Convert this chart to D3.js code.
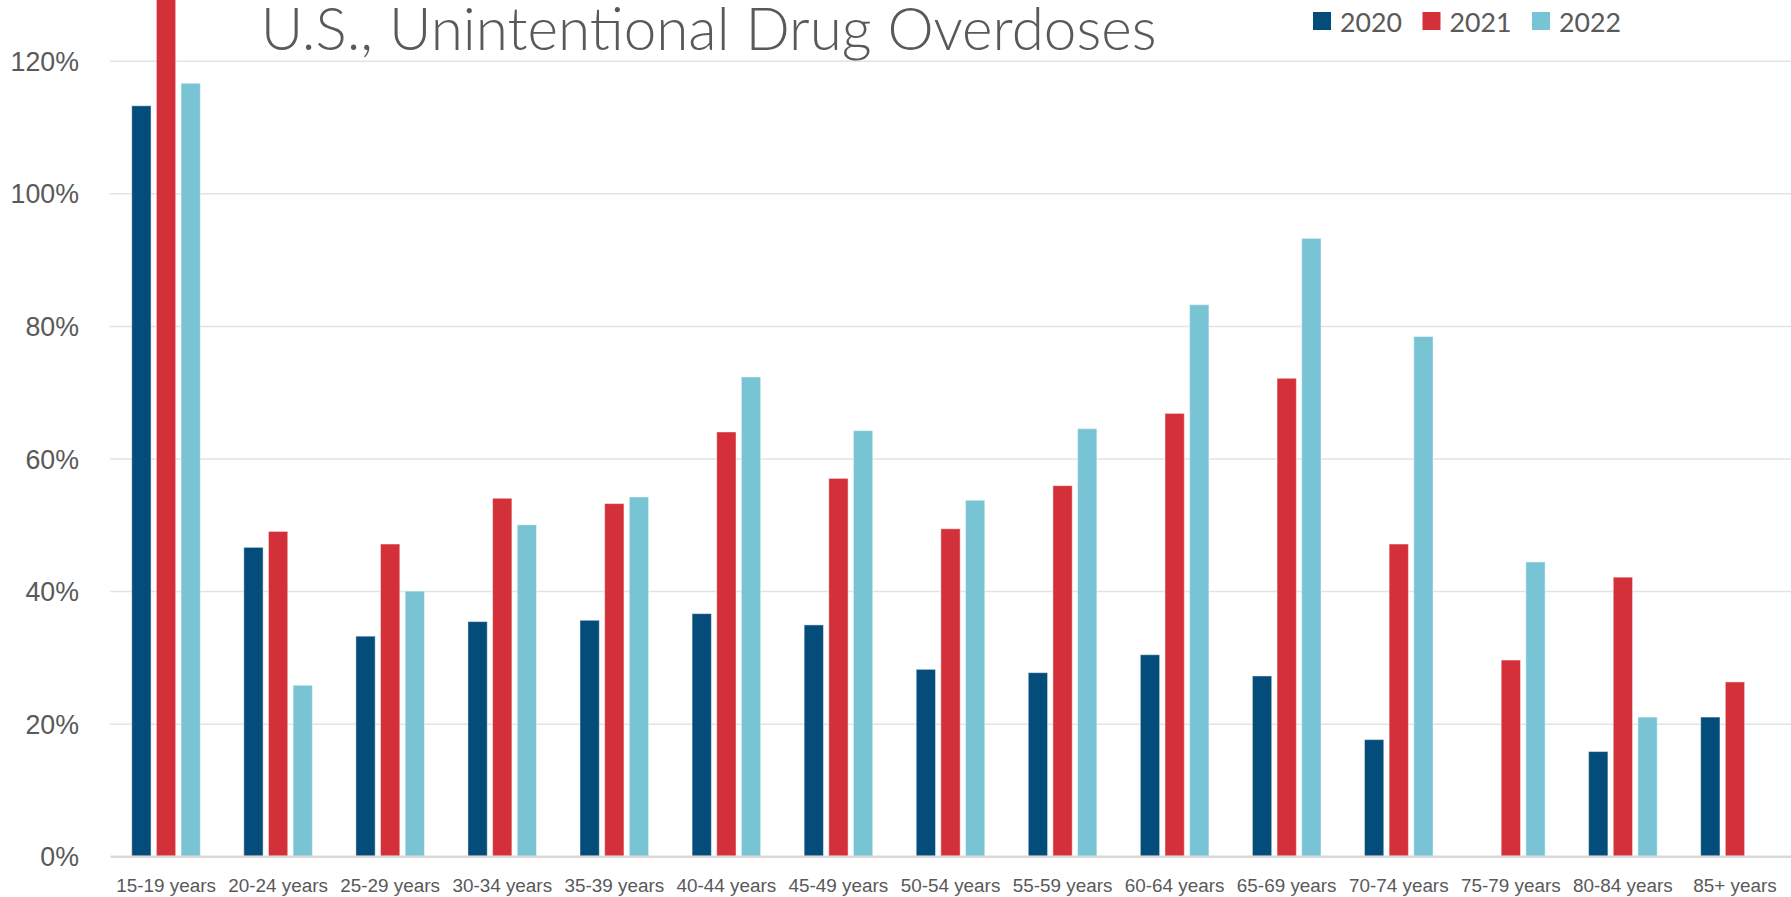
<!DOCTYPE html>
<html>
<head>
<meta charset="utf-8">
<script src="https://cdn.jsdelivr.net/npm/d3@7"></script>
<style>
  html, body { margin: 0; padding: 0; background: #fff; }
  svg { display: block; font-family: Lato, "Open Sans", sans-serif; }
  .grid line { stroke: #e3e3e3; stroke-width: 1.5px; }
  .grid .domain { display: none; }
  .x.axis .domain { stroke: #d9d9d9; stroke-width: 2.5px; }
  .x.axis line { display: none; }
  text { fill: #595959; }
</style>
</head>
<body>
<div id="chart"></div>
<script>
var ageGroups = ["15-19 years", "20-24 years", "25-29 years", "30-34 years", "35-39 years",
  "40-44 years", "45-49 years", "50-54 years", "55-59 years", "60-64 years",
  "65-69 years", "70-74 years", "75-79 years", "80-84 years", "85+ years"];

var years = ["2020", "2021", "2022"];

// share of change, 1 = 100% (null = no bar)
var values2020 = [1.132, 0.466, 0.332, 0.354, 0.356, 0.366, 0.349, 0.282, 0.277, 0.304, 0.272, 0.176, null, 0.158, 0.210];
var values2021 = [1.380, 0.490, 0.471, 0.540, 0.532, 0.640, 0.570, 0.494, 0.559, 0.668, 0.721, 0.471, 0.296, 0.421, 0.263];
var values2022 = [1.166, 0.258, 0.400, 0.500, 0.542, 0.723, 0.642, 0.537, 0.645, 0.832, 0.932, 0.784, 0.444, 0.210, null];

var yTicks = [0, 0.2, 0.4, 0.6, 0.8, 1.0, 1.2];

var colors = ["#044d7b", "#d43039", "#79c4d4"];

var W = 1791, H = 897;
var plot = {left: 110, right: 1791, top: 60.7, bottom: 856.3};

var series = [values2020, values2021, values2022];

var svg = d3.select("#chart").append("svg")
  .attr("width", W)
  .attr("height", H);

var x0 = d3.scaleBand()
  .domain(ageGroups)
  .range([plot.left, plot.right])
  .paddingInner(0.388)
  .paddingOuter(0.194);

var x1 = d3.scaleBand()
  .domain(years)
  .range([0, x0.bandwidth()])
  .paddingInner(0.217);

var y = d3.scaleLinear()
  .domain([0, 1.2])
  .range([plot.bottom, plot.top]);

var z = d3.scaleOrdinal()
  .domain(years)
  .range(colors);

// fit a font size so a sample string gets the wanted width
function fitSize(str, target, weight) {
  var t = svg.append("text")
    .style("font-size", "100px")
    .style("font-weight", weight || 400)
    .text(str);
  var w = t.node().getComputedTextLength();
  t.remove();
  return 100 * target / w;
}

var yFont = fitSize("120%", 68);
var xFont = fitSize("15-19 years", 99);
var legFont = fitSize("2020", 62);
var titleFont = fitSize("U.S., Unintentional Drug Overdoses", 896, 300);

// gridlines + y labels
var yAxis = d3.axisLeft(y)
  .tickValues(yTicks)
  .tickSize(-(plot.right - plot.left))
  .tickPadding(31)
  .tickFormat(d3.format(".0%"));

svg.append("g")
  .attr("class", "grid")
  .attr("transform", "translate(" + plot.left + ",0)")
  .call(yAxis)
  .call(function(g) { g.selectAll(".tick").filter(function(d) { return d === 0; }).select("line").remove(); })
  .selectAll("text")
  .style("font-size", yFont + "px")
  .attr("dy", "0.36em");

// bars
var groups = svg.append("g")
  .selectAll("g")
  .data(ageGroups)
  .enter().append("g")
  .attr("transform", function(d) { return "translate(" + x0(d) + ",0)"; });

groups.selectAll("rect")
  .data(function(d, i) {
    return years.map(function(yr, k) { return {year: yr, value: series[k][i]}; })
      .filter(function(v) { return v.value !== null; });
  })
  .enter().append("rect")
  .attr("x", function(d) { return x1(d.year); })
  .attr("width", x1.bandwidth())
  .attr("y", function(d) { return y(d.value); })
  .attr("height", function(d) { return y(0) - y(d.value); })
  .attr("fill", function(d) { return z(d.year); })
  .attr("stroke", "#ffffff")
  .attr("stroke-opacity", 0.45)
  .attr("stroke-width", 1);

// x axis
var xAxis = d3.axisBottom(x0)
  .tickSize(0)
  .tickSizeOuter(0)
  .tickPadding(22);

svg.append("g")
  .attr("class", "x axis")
  .attr("transform", "translate(0," + plot.bottom + ")")
  .call(xAxis)
  .selectAll("text")
  .style("font-size", xFont + "px");

// title
svg.append("text")
  .attr("x", 260.7)
  .attr("y", 50)
  .style("font-size", titleFont + "px")
  .style("font-weight", 300)
  .text("U.S., Unintentional Drug Overdoses");

// legend
var legend = svg.selectAll(".legend")
  .data(years)
  .enter().append("g")
  .attr("class", "legend")
  .attr("transform", function(d, i) { return "translate(" + (1313 + i * 109.5) + ",0)"; });

legend.append("rect")
  .attr("x", 0)
  .attr("y", 12)
  .attr("width", 18)
  .attr("height", 18)
  .attr("fill", function(d) { return z(d); });

legend.append("text")
  .attr("x", 27)
  .attr("y", 31.7)
  .style("font-size", legFont + "px")
  .text(function(d) { return d; });
</script>
</body>
</html>
